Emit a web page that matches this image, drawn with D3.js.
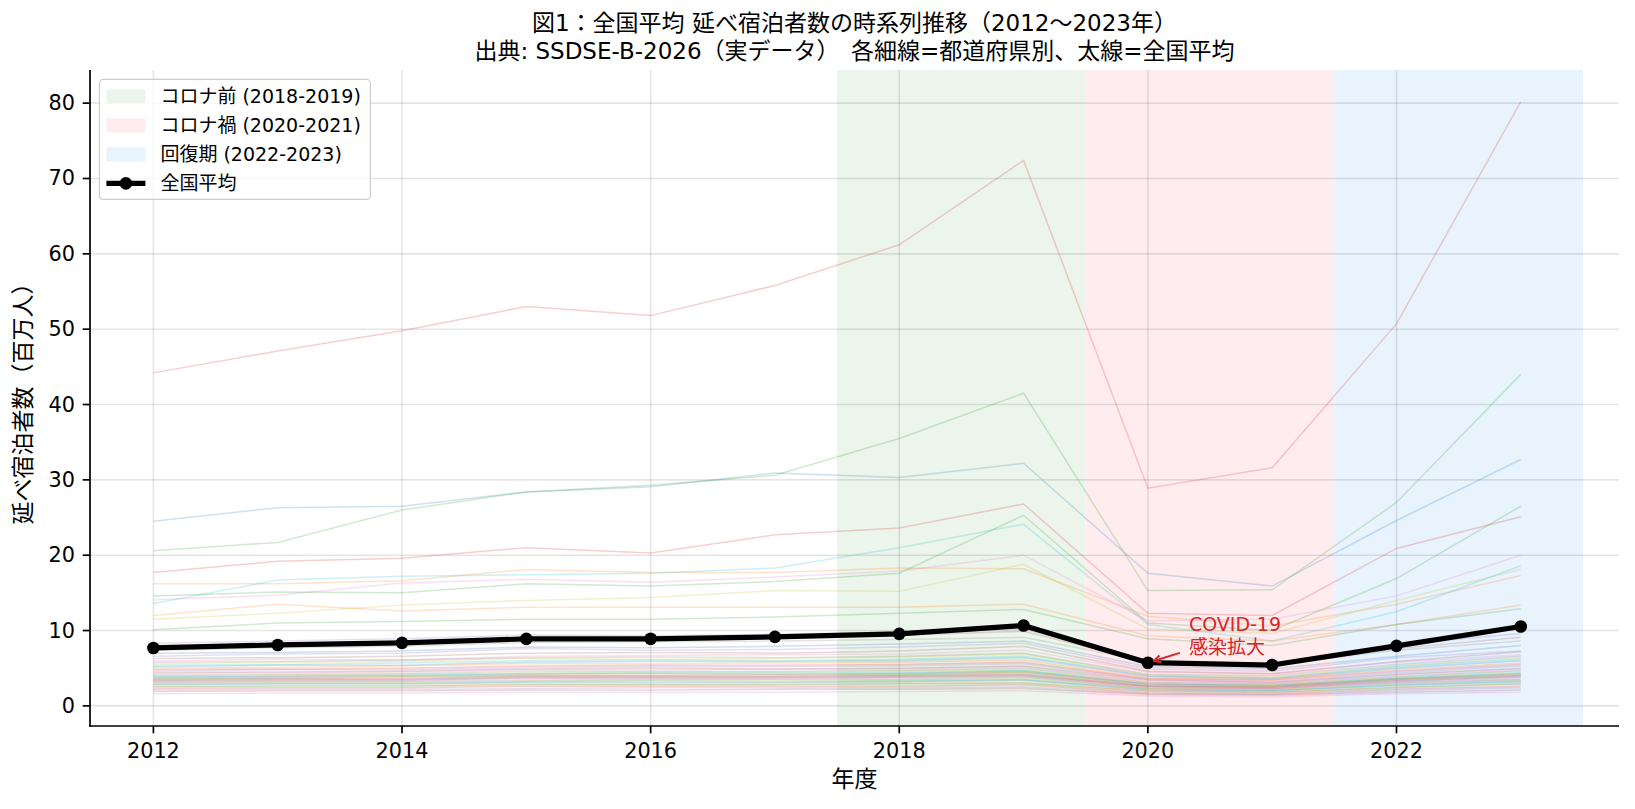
<!DOCTYPE html>
<html><head><meta charset="utf-8">
<script src="https://cdn.jsdelivr.net/npm/d3@7"></script>
<style>
html,body{margin:0;padding:0;background:#fff;}
svg{display:block;font-family:"DejaVu Sans","Noto Sans CJK JP",sans-serif;}
</style></head><body>
<svg id="chart" width="1635" height="809"></svg>
<script>
/* ===== 図1: 全国平均 延べ宿泊者数の時系列推移 (2012〜2023) ===== */

const years = [2012,2013,2014,2015,2016,2017,2018,2019,2020,2021,2022,2023];

// 全国平均 (百万人)
const nationalAvg = [7.69,8.09,8.36,8.89,8.90,9.16,9.56,10.67,5.73,5.42,7.96,10.53];

// 都道府県別 (百万人), order fixes the colour cycle
const prefValues = [
  [24.5,26.3,26.5,28.4,29.1,30.9,30.3,32.2,17.6,15.9,24.6,32.7],
  [16.2,16.2,16.6,18.1,17.7,17.7,18.3,18.2,11.9,10.6,13.5,17.3],
  [20.6,21.7,26.0,28.4,29.3,30.6,35.5,41.5,15.3,15.4,27.0,44.0],
  [44.2,47.1,49.8,53.0,51.8,55.8,61.2,72.4,28.9,31.6,50.7,80.2],
  [8.3,8.6,8.9,9.4,9.3,9.5,9.8,10.2,6.0,5.6,8.1,9.6],
  [8.0,8.2,8.4,9.0,9.1,9.0,9.4,9.9,5.8,5.3,7.6,9.1],
  [14.1,14.7,16.3,16.8,16.4,17.1,17.9,20.0,11.3,11.5,14.6,20.0],
  [7.4,7.7,7.9,8.4,8.5,8.6,8.8,9.1,5.9,5.5,7.4,8.6],
  [11.5,12.3,13.4,14.0,14.4,15.3,15.2,18.8,10.2,9.6,14.0,18.1],
  [13.6,16.7,17.2,17.4,17.6,18.3,21.0,24.1,10.8,8.6,12.5,18.6],
  [7.0,7.1,7.3,7.8,7.7,7.9,8.2,8.6,5.2,4.9,6.6,8.0],
  [12.0,13.5,12.6,13.1,13.1,13.1,13.1,13.5,9.3,8.6,10.8,13.4],
  [14.6,15.1,15.0,16.2,15.9,16.5,17.6,25.3,11.0,10.0,16.9,26.5],
  [17.7,19.2,19.6,21.0,20.3,22.7,23.6,26.8,12.3,12.0,20.9,25.1],
  [6.6,6.9,7.0,7.6,7.4,7.5,7.8,8.3,4.9,4.6,6.4,7.3],
  [6.3,6.4,6.6,7.0,7.1,7.0,7.3,7.9,4.6,4.3,5.9,7.2],
  [6.0,6.2,6.1,6.6,6.7,6.8,6.9,7.4,4.5,4.2,5.8,6.8],
  [5.8,5.9,6.1,6.4,6.5,6.4,6.6,7.0,4.2,4.0,5.5,6.6],
  [5.6,5.8,5.9,6.3,6.2,6.3,6.5,6.9,4.1,3.8,5.3,6.4],
  [5.4,5.5,5.7,6.0,6.1,6.0,6.2,6.6,4.0,3.7,5.2,6.2],
  [5.2,5.4,5.4,5.8,5.9,5.9,6.0,6.4,3.9,3.6,5.0,6.0],
  [5.0,5.1,5.3,5.6,5.6,5.7,5.8,6.1,3.7,3.5,4.8,5.7],
  [10.1,11.0,11.2,11.5,11.5,11.8,12.3,12.8,8.9,8.0,10.8,12.9],
  [4.8,4.9,5.0,5.3,5.4,5.4,5.5,5.8,3.6,3.4,4.6,5.5],
  [4.6,4.8,4.8,5.1,5.2,5.2,5.3,5.6,3.5,3.2,4.4,5.3],
  [4.4,4.5,4.6,4.9,5.0,4.9,5.0,5.3,3.4,3.1,4.2,5.0],
  [4.3,4.4,4.5,4.8,4.8,4.9,4.9,5.2,3.2,3.0,4.1,4.9],
  [4.1,4.2,4.3,4.6,4.6,4.6,4.7,5.0,3.1,2.9,3.9,4.7],
  [4.0,4.1,4.2,4.4,4.5,4.5,4.6,4.8,3.0,2.8,3.8,4.6],
  [3.9,4.0,4.1,4.3,4.4,4.4,4.4,4.7,2.9,2.7,3.7,4.4],
  [3.8,3.9,4.0,4.2,4.3,4.2,4.3,4.6,2.9,2.7,3.6,4.3],
  [3.7,3.8,3.9,4.1,4.1,4.2,4.2,4.5,2.8,2.6,3.6,4.2],
  [3.6,3.7,3.8,4.0,4.0,4.0,4.1,4.4,2.7,2.5,3.5,4.1],
  [3.5,3.6,3.6,3.9,3.9,3.9,4.0,4.2,2.6,2.5,3.4,4.0],
  [3.4,3.5,3.5,3.8,3.8,3.8,3.9,4.1,2.6,2.4,3.3,3.9],
  [3.3,3.4,3.4,3.7,3.7,3.7,3.8,4.0,2.5,2.3,3.2,3.8],
  [3.2,3.3,3.3,3.6,3.6,3.6,3.7,3.9,2.4,2.3,3.1,3.6],
  [3.1,3.2,3.2,3.4,3.5,3.5,3.5,3.8,2.3,2.2,3.0,3.5],
  [3.0,3.1,3.1,3.3,3.4,3.4,3.4,3.6,2.3,2.1,2.9,3.4],
  [2.9,3.0,3.0,3.2,3.3,3.2,3.3,3.5,2.2,2.0,2.8,3.3],
  [2.8,2.9,2.9,3.1,3.1,3.1,3.2,3.4,2.1,2.0,2.7,3.2],
  [2.6,2.7,2.7,2.9,2.9,2.9,3.0,3.1,2.0,1.8,2.5,3.0],
  [2.5,2.6,2.6,2.8,2.8,2.8,2.9,3.0,1.9,1.8,2.4,2.9],
  [2.3,2.4,2.4,2.6,2.6,2.6,2.6,2.8,1.7,1.6,2.2,2.6],
  [2.1,2.2,2.2,2.3,2.4,2.4,2.4,2.5,1.6,1.5,2.0,2.4],
  [1.9,2.0,2.0,2.1,2.1,2.2,2.2,2.3,1.5,1.4,1.8,2.1],
  [1.6,1.7,1.7,1.8,1.8,1.8,1.9,2.0,1.3,1.2,1.6,1.8]
];

// shaded periods
const periodLabels = ["コロナ前 (2018-2019)","コロナ禍 (2020-2021)","回復期 (2022-2023)"];
const periodStart  = [2017.5, 2019.5, 2021.5];
const periodEnd    = [2019.5, 2021.5, 2023.5];

const xTicks = [2012,2014,2016,2018,2020,2022];
const yTicks = [0,10,20,30,40,50,60,70,80];

const titleLines = [
  "図1：全国平均 延べ宿泊者数の時系列推移（2012〜2023年）",
  "出典: SSDSE-B-2026（実データ）　各細線=都道府県別、太線=全国平均"
];
const xLabel = "年度";
const yLabel = "延べ宿泊者数（百万人）";
const avgLabel = "全国平均";
const noteLines = ["COVID-19","感染拡大"];
const noteYear = 2020, noteAt = [2020.33, 6.9];

/* ---------- layout / style ---------- */
const M = { l: 90, r: 1619, t: 70, b: 726 };
const BAND_FILL = ["#ebf5eb", "#ffecef", "#e8f3fe"];
const PREF_COLORS = d3.schemeCategory10;
const TICK_FS = 20.8, LABEL_FS = 23, LEG_FS = 19;
const NOTE_RED = "#d62728";

const svg = d3.select("#chart");

const x = d3.scaleLinear().domain([2011.49, 2023.79]).range([M.l, M.r]);
const y = d3.scaleLinear().domain([-2.67, 84.4]).range([M.b, M.t]);

// bands
svg.append("g").selectAll("rect").data(periodStart).join("rect")
  .attr("x", (d) => x(d))
  .attr("width", (d, i) => x(periodEnd[i]) - x(d))
  .attr("y", M.t).attr("height", M.b - M.t)
  .attr("fill", (d, i) => BAND_FILL[i]);

// grid
const grid = svg.append("g").attr("stroke", "rgba(0,0,0,0.1)").attr("stroke-width", 1.6);
grid.selectAll("line.gx").data(xTicks).join("line").attr("class","gx")
  .attr("x1", d => x(d)).attr("x2", d => x(d)).attr("y1", M.t).attr("y2", M.b);
grid.selectAll("line.gy").data(yTicks).join("line").attr("class","gy")
  .attr("x1", M.l).attr("x2", M.r).attr("y1", d => y(d)).attr("y2", d => y(d));

// prefecture lines
const line = d3.line().x((d, i) => x(years[i])).y(d => y(d));
svg.append("g").selectAll("path").data(prefValues).join("path")
  .attr("d", line)
  .attr("fill", "none")
  .attr("stroke", (d, i) => PREF_COLORS[i % 10])
  .attr("stroke-opacity", 0.22)
  .attr("stroke-width", 1.5);

// national average
svg.append("path").attr("d", line(nationalAvg))
  .attr("fill", "none").attr("stroke", "#000").attr("stroke-width", 5.2)
  .attr("stroke-linejoin", "round");
svg.append("g").selectAll("circle").data(nationalAvg).join("circle")
  .attr("cx", (d, i) => x(years[i])).attr("cy", d => y(d)).attr("r", 6.3).attr("fill", "#000");

// annotation
const ai = years.indexOf(noteYear);
const px = x(noteYear), py = y(nationalAvg[ai]);
const tx = x(noteAt[0]), ty = y(noteAt[1]);
const sx = tx - 9, sy = ty - 1;
const ang = Math.atan2(py - sy, px - sx);
const ex = px + Math.cos(ang + Math.PI) * 6, ey = py + Math.sin(ang + Math.PI) * 6;
const na = svg.append("g").attr("stroke", NOTE_RED).attr("stroke-width", 2).attr("fill", "none");
na.append("line").attr("x1", sx).attr("y1", sy).attr("x2", ex).attr("y2", ey);
[-0.45, 0.45].forEach(da => {
  na.append("line").attr("x1", ex).attr("y1", ey)
    .attr("x2", ex - Math.cos(ang + da) * 8).attr("y2", ey - Math.sin(ang + da) * 8);
});
svg.append("g").selectAll("text").data(noteLines).join("text")
  .attr("x", tx).attr("y", (d, i) => ty - (noteLines.length - 1 - i) * 23)
  .attr("fill", NOTE_RED).attr("font-size", LEG_FS).text(d => d);

// axes
const axis = svg.append("g").attr("fill", "#000");
axis.append("line").attr("x1", M.l).attr("x2", M.l).attr("y1", M.t).attr("y2", M.b + 0.8)
  .attr("stroke", "#000").attr("stroke-width", 1.7);
axis.append("line").attr("x1", M.l - 0.8).attr("x2", M.r).attr("y1", M.b).attr("y2", M.b)
  .attr("stroke", "#000").attr("stroke-width", 1.7);
axis.selectAll("line.tx").data(xTicks).join("line").attr("class","tx")
  .attr("x1", d => x(d)).attr("x2", d => x(d)).attr("y1", M.b).attr("y2", M.b + 7.3)
  .attr("stroke", "#000").attr("stroke-width", 1.7);
axis.selectAll("text.tx").data(xTicks).join("text").attr("class","tx")
  .attr("x", d => x(d)).attr("y", M.b + 25).attr("dominant-baseline", "central")
  .attr("text-anchor", "middle").attr("font-size", TICK_FS).text(d => d);
axis.selectAll("line.ty").data(yTicks).join("line").attr("class","ty")
  .attr("x1", M.l - 7.3).attr("x2", M.l).attr("y1", d => y(d)).attr("y2", d => y(d))
  .attr("stroke", "#000").attr("stroke-width", 1.7);
axis.selectAll("text.ty").data(yTicks).join("text").attr("class","ty")
  .attr("x", M.l - 15).attr("y", d => y(d)).attr("dominant-baseline", "central")
  .attr("text-anchor", "end").attr("font-size", TICK_FS).text(d => d);

// axis labels
svg.append("text").attr("x", (M.l + M.r) / 2).attr("y", 779)
  .attr("text-anchor", "middle").attr("dominant-baseline", "central")
  .attr("font-size", LABEL_FS).text(xLabel);
svg.append("text").attr("transform", `translate(23,${(M.t + M.b) / 2}) rotate(-90)`)
  .attr("text-anchor", "middle").attr("dominant-baseline", "central")
  .attr("font-size", LABEL_FS).text(yLabel);

// title
svg.append("g").selectAll("text").data(titleLines).join("text")
  .attr("x", (M.l + M.r) / 2).attr("y", (d, i) => 31 + i * 27.6)
  .attr("text-anchor", "middle").attr("font-size", LABEL_FS).text(d => d);

// legend
const leg = svg.append("g").attr("transform", `translate(${M.l + 9.4},${M.t + 9.4})`);
leg.append("rect").attr("width", 271).attr("height", 120).attr("rx", 4)
  .attr("fill", "rgba(255,255,255,0.8)").attr("stroke", "#cccccc").attr("stroke-width", 1.2);
const rowY = i => 17 + i * 29;
periodLabels.forEach((lab, i) => {
  leg.append("rect").attr("x", 7).attr("y", rowY(i) - 7).attr("width", 39).attr("height", 14)
    .attr("fill", BAND_FILL[i]);
  leg.append("text").attr("x", 61).attr("y", rowY(i)).attr("dominant-baseline", "central")
    .attr("font-size", LEG_FS).text(lab);
});
leg.append("line").attr("x1", 7).attr("x2", 46).attr("y1", rowY(3)).attr("y2", rowY(3))
  .attr("stroke", "#000").attr("stroke-width", 5.2);
leg.append("circle").attr("cx", 26.5).attr("cy", rowY(3)).attr("r", 6.3).attr("fill", "#000");
leg.append("text").attr("x", 61).attr("y", rowY(3)).attr("dominant-baseline", "central")
  .attr("font-size", LEG_FS).text(avgLabel);
</script>
</body></html>
